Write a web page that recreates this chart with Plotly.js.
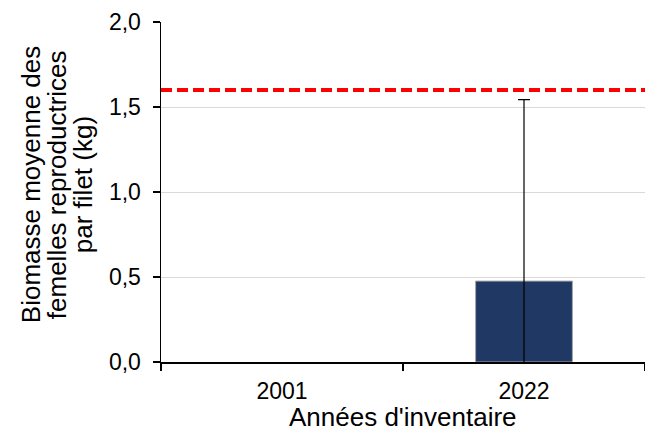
<!DOCTYPE html>
<html>
<head>
<meta charset="utf-8">
<script src="https://cdn.plot.ly/plotly-3.0.1.min.js"></script>
<style>html,body{margin:0;padding:0;background:#fff;}#chart{width:645px;height:432px;}</style>
</head>
<body>
<div id="chart"></div>
<script>
const categories = ["2001", "2022"];
const biomass = [null, 0.476];
const errorPlus = [null, 1.067];
const errorMinus = [null, 1.067];
const threshold = 1.6;
const yTicks = [0, 0.5, 1.0, 1.5, 2.0];
const yTitleLines = ["Biomasse moyenne des", "femelles reproductrices", "par filet (kg)"];
const xTitle = "Années d'inventaire";

const trace = {
  type: "bar",
  x: categories,
  y: biomass,
  marker: {color: "#203864", line: {color: "#a6a6a6", width: 1}},
  error_y: {type: "data", symmetric: false, array: errorPlus, arrayminus: errorMinus,
            color: "#000000", thickness: 1.2, width: 6, visible: true},
  hoverinfo: "none",
  cliponaxis: true
};

const fontFam = "Liberation Sans, Arial, sans-serif";
const yTitleOffsets = [-130, -104, -78];

const annotations = yTitleLines.map((t, i) => ({
  text: t, textangle: -90, showarrow: false,
  xref: "paper", yref: "paper", x: 0, y: 0.52,
  xanchor: "center", yanchor: "middle", xshift: yTitleOffsets[i],
  font: {family: fontFam, size: 26, color: "#000000"}
}));
annotations.push({
  text: xTitle, showarrow: false,
  xref: "paper", yref: "paper", x: 0.5, y: 0,
  xanchor: "center", yanchor: "middle", yshift: -55,
  font: {family: fontFam, size: 26, color: "#000000"}
});

const layout = {
  width: 645, height: 432,
  margin: {l: 161, r: 0, t: 22, b: 70},
  paper_bgcolor: "#ffffff", plot_bgcolor: "#ffffff",
  separators: ",.",
  font: {family: fontFam, color: "#000000", size: 22},
  showlegend: false,
  bargap: 0.6,
  xaxis: {
    type: "category",
    showline: true, linecolor: "#000000", linewidth: 1.5,
    ticks: "outside", tickson: "boundaries", ticklen: 7, tickcolor: "#000000", tickwidth: 1.5,
    ticklabelstandoff: 8,
    showgrid: false, zeroline: false,
    tickfont: {size: 23}
  },
  yaxis: {
    range: [0, 2.0],
    tickvals: yTicks, tickformat: ".1f",
    showline: true, linecolor: "#000000", linewidth: 1.5,
    ticks: "outside", ticklen: 7, tickcolor: "#000000", tickwidth: 1.5,
    ticklabelstandoff: 7,
    showgrid: true, gridcolor: "#d9d9d9", gridwidth: 1,
    zeroline: false,
    tickfont: {size: 23}
  },
  annotations: annotations,
  shapes: [{
    type: "line", xref: "paper", yref: "y",
    x0: 0, x1: 1, y0: threshold, y1: threshold,
    line: {color: "#ff0000", width: 4, dash: "11px,5px"}
  }]
};

Plotly.newPlot("chart", [trace], layout, {displayModeBar: false, staticPlot: true});
</script>
</body>
</html>
